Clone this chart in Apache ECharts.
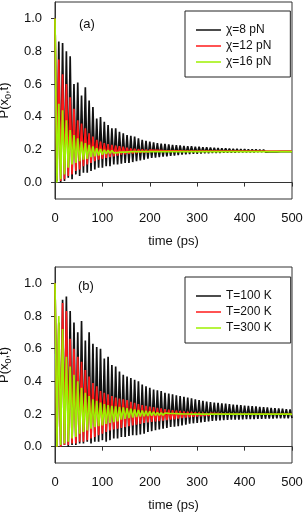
<!DOCTYPE html>
<html><head><meta charset="utf-8">
<script src="https://cdn.jsdelivr.net/npm/echarts@6/dist/echarts.min.js"></script>
<style>html,body{margin:0;padding:0;background:#fff}#c{width:303px;height:513px}</style>
</head><body><div id="c"></div>
<script>
// time samples (ps)
const times = [0,4,8,12,16,20,24,28,32,36,40,44,48,52,56,60,64,68,72,76,80,84,88,92,96,100,104,108,112,116,120,124,128,132,136,140,144,148,152,156,160,164,168,172,176,180,184,188,192,196,200,204,208,212,216,220,224,228,232,236,240,244,248,252,256,260,264,268,272,276,280,284,288,292,296,300,304,308,312,316,320,324,328,332,336,340,344,348,352,356,360,364,368,372,376,380,384,388,392,396,400,404,408,412,416,420,424,428,432,436,440,444,448,452,456,460,464,468,472,476,480,484,488,492,496,500];

const xTicks = [0,100,200,300,400,500];
const yTicks = [0.0,0.2,0.4,0.6,0.8,1.0];

// panel (a)
const namesA = ['χ=8 pN','χ=12 pN','χ=16 pN'];
const a_chi8 = [
1.00,0.01, 0.86,0.00, 0.85,0.01, 0.80,0.03, 0.77,0.02, 0.60,0.05, 0.61,0.04, 0.53,0.06,
0.58,0.06, 0.50,0.07, 0.46,0.08, 0.39,0.09, 0.40,0.09, 0.37,0.10, 0.35,0.10, 0.33,0.11,
0.33,0.11, 0.31,0.115, 0.30,0.12, 0.29,0.12, 0.285,0.125, 0.28,0.13, 0.27,0.135, 0.26,0.14,
0.255,0.145, 0.25,0.15, 0.245,0.152, 0.24,0.155, 0.238,0.158, 0.236,0.16, 0.233,0.163, 0.23,0.165,
0.228,0.167, 0.226,0.17, 0.224,0.172, 0.222,0.174, 0.221,0.175, 0.219,0.176, 0.218,0.177, 0.216,0.178,
0.215,0.179, 0.213,0.18, 0.212,0.18, 0.211,0.181, 0.209,0.182, 0.208,0.182, 0.207,0.183, 0.206,0.183,
0.205,0.184, 0.204,0.184, 0.203,0.185, 0.202,0.185, 0.202,0.185, 0.201,0.186, 0.200,0.186, 0.199,0.186,
0.198,0.187, 0.197,0.187, 0.196,0.187, 0.195,0.188, 0.195,0.188, 0.194,0.188, 0.194,0.188];
const a_chi12 = [
1.00,0.02, 0.75,0.01, 0.66,0.02, 0.60,0.04, 0.52,0.05, 0.45,0.07, 0.38,0.08, 0.36,0.10,
0.33,0.11, 0.30,0.12, 0.28,0.13, 0.26,0.14, 0.25,0.145, 0.24,0.15, 0.235,0.155, 0.23,0.16,
0.225,0.165, 0.222,0.17, 0.218,0.172, 0.212,0.175, 0.208,0.178, 0.205,0.18, 0.203,0.182, 0.201,0.184,
0.199,0.185, 0.198,0.186, 0.197,0.187, 0.196,0.188, 0.195,0.189, 0.194,0.19, 0.194,0.19, 0.193,0.19,
0.193,0.191, 0.193,0.191, 0.192,0.191, 0.192,0.191, 0.192,0.191, 0.192,0.191, 0.192,0.191, 0.192,0.191,
0.192,0.191, 0.192,0.191, 0.192,0.191, 0.192,0.191, 0.192,0.191, 0.192,0.191, 0.192,0.191, 0.192,0.191,
0.192,0.191, 0.192,0.191, 0.192,0.191, 0.192,0.191, 0.192,0.191, 0.192,0.191, 0.192,0.191, 0.192,0.191,
0.192,0.191, 0.192,0.191, 0.192,0.191, 0.192,0.191, 0.192,0.191, 0.192,0.191, 0.192,0.191];
const a_chi16 = [
1.00,0.00, 0.48,0.02, 0.44,0.05, 0.38,0.09, 0.32,0.11, 0.29,0.12, 0.27,0.13, 0.25,0.14,
0.24,0.145, 0.23,0.155, 0.22,0.16, 0.21,0.165, 0.205,0.17, 0.20,0.175, 0.197,0.178, 0.195,0.181,
0.193,0.183, 0.191,0.185, 0.190,0.186, 0.189,0.187, 0.189,0.188, 0.189,0.188, 0.189,0.188, 0.189,0.188,
0.189,0.188, 0.189,0.188, 0.189,0.188, 0.189,0.188, 0.189,0.188, 0.189,0.188, 0.189,0.188, 0.189,0.188,
0.189,0.188, 0.189,0.188, 0.189,0.188, 0.189,0.188, 0.189,0.188, 0.189,0.188, 0.189,0.188, 0.189,0.188,
0.189,0.188, 0.189,0.188, 0.189,0.188, 0.189,0.188, 0.189,0.188, 0.189,0.188, 0.189,0.188, 0.189,0.188,
0.189,0.188, 0.189,0.188, 0.189,0.188, 0.189,0.188, 0.189,0.188, 0.189,0.188, 0.189,0.188, 0.189,0.188,
0.189,0.188, 0.189,0.188, 0.189,0.188, 0.189,0.188, 0.189,0.188, 0.189,0.188, 0.189,0.188];

// panel (b)
const namesB = ['T=100 K','T=200 K','T=300 K'];
const b_T100 = [
1.00,0.00, 0.76,0.00, 0.90,0.01, 0.92,0.00, 0.83,0.01, 0.76,0.01, 0.70,0.02, 0.77,0.02,
0.65,0.03, 0.70,0.02, 0.63,0.03, 0.61,0.03, 0.60,0.04, 0.54,0.03, 0.55,0.04, 0.50,0.05,
0.49,0.05, 0.46,0.06, 0.44,0.06, 0.43,0.065, 0.42,0.07, 0.41,0.07, 0.40,0.075, 0.38,0.08,
0.37,0.09, 0.36,0.095, 0.35,0.10, 0.345,0.105, 0.34,0.11, 0.33,0.115, 0.325,0.12, 0.32,0.122,
0.315,0.125, 0.31,0.13, 0.305,0.135, 0.30,0.14, 0.296,0.143, 0.29,0.146, 0.285,0.149, 0.28,0.152,
0.276,0.155, 0.273,0.157, 0.27,0.159, 0.268,0.161, 0.265,0.163, 0.263,0.164, 0.26,0.165, 0.258,0.166,
0.256,0.166, 0.254,0.167, 0.252,0.168, 0.25,0.168, 0.248,0.169, 0.246,0.17, 0.244,0.17, 0.242,0.171,
0.24,0.172, 0.238,0.172, 0.236,0.173, 0.234,0.173, 0.232,0.174, 0.23,0.174, 0.228,0.175];
const b_T200 = [
1.00,0.00, 0.75,0.00, 0.88,0.01, 0.83,0.01, 0.66,0.02, 0.60,0.02, 0.55,0.03, 0.52,0.03,
0.47,0.04, 0.43,0.05, 0.39,0.06, 0.37,0.07, 0.34,0.08, 0.33,0.09, 0.32,0.10, 0.31,0.105,
0.30,0.11, 0.295,0.115, 0.29,0.12, 0.285,0.125, 0.275,0.13, 0.268,0.135, 0.26,0.14, 0.255,0.145,
0.25,0.148, 0.246,0.151, 0.242,0.154, 0.238,0.157, 0.234,0.16, 0.23,0.163, 0.227,0.166, 0.224,0.168,
0.221,0.172, 0.218,0.175, 0.216,0.178, 0.214,0.18, 0.212,0.183, 0.21,0.185, 0.208,0.187, 0.206,0.189,
0.205,0.19, 0.204,0.192, 0.203,0.193, 0.202,0.194, 0.201,0.195, 0.200,0.196, 0.200,0.196, 0.199,0.197,
0.199,0.197, 0.199,0.197, 0.199,0.197, 0.199,0.197, 0.199,0.197, 0.199,0.197, 0.199,0.197, 0.199,0.197,
0.199,0.197, 0.199,0.197, 0.199,0.197, 0.199,0.197, 0.199,0.197, 0.199,0.197, 0.199,0.197];
const b_T300 = [
1.00,0.00, 0.80,0.01, 0.72,0.02, 0.55,0.03, 0.49,0.05, 0.44,0.06, 0.40,0.08, 0.36,0.09,
0.33,0.10, 0.31,0.11, 0.29,0.12, 0.28,0.125, 0.27,0.13, 0.26,0.14, 0.255,0.145, 0.25,0.15,
0.247,0.155, 0.244,0.165, 0.24,0.17, 0.236,0.175, 0.232,0.178, 0.228,0.181, 0.225,0.184, 0.222,0.186,
0.219,0.188, 0.216,0.19, 0.213,0.191, 0.21,0.192, 0.208,0.193, 0.206,0.194, 0.204,0.195, 0.203,0.196,
0.202,0.197, 0.201,0.197, 0.200,0.198, 0.200,0.198, 0.199,0.198, 0.199,0.198, 0.199,0.198, 0.199,0.198,
0.199,0.198, 0.199,0.198, 0.199,0.198, 0.199,0.198, 0.199,0.198, 0.199,0.198, 0.199,0.198, 0.199,0.198,
0.199,0.198, 0.199,0.198, 0.199,0.198, 0.199,0.198, 0.199,0.198, 0.199,0.198, 0.199,0.198, 0.199,0.198,
0.199,0.198, 0.199,0.198, 0.199,0.198, 0.199,0.198, 0.199,0.198, 0.199,0.198, 0.199,0.198];

const colors = ['#111111','#ff1a1a','#9ef000'];
const FONT = 'Liberation Sans, Arial, sans-serif';

function xAx(gi){
  return {type:'value', gridIndex:gi, min:0, max:500, interval:100,
    axisLine:{lineStyle:{color:'#333',width:1}},
    axisTick:{length:4, lineStyle:{color:'#333'}},
    axisLabel:{fontSize:13, color:'#111', margin:13, fontFamily:FONT,
      customValues:xTicks},
    splitLine:{show:false},
    name:'time (ps)', nameLocation:'middle', nameGap:36,
    nameTextStyle:{fontSize:13, color:'#111', fontFamily:FONT}};
}
function yAx(gi){
  return {type:'value', gridIndex:gi, min:-0.1, max:1.1,
    axisLine:{onZero:false, lineStyle:{color:'#333',width:1}},
    axisTick:{length:4, lineStyle:{color:'#333'}, customValues:yTicks},
    axisLabel:{fontSize:13, color:'#111', margin:13, fontFamily:FONT,
      customValues:yTicks, formatter:v=>v.toFixed(1)},
    splitLine:{show:false},
    name:'P(x{s|0},t)', nameLocation:'middle', nameGap:41, nameRotate:90,
    nameTextStyle:{fontSize:13, color:'#111', fontFamily:FONT, lineHeight:18,
      rich:{s:{fontSize:9, fontFamily:FONT, color:'#111', verticalAlign:'bottom', lineHeight:8}}}};
}
function mk(name, arr, gi, ci){
  return {name:name, type:'line', xAxisIndex:gi, yAxisIndex:gi, showSymbol:false,
    symbol:'none', animation:false, color:colors[ci],
    lineStyle:{width:1.7, color:colors[ci]},
    data: times.map((t,i)=>[t, arr[i]])};
}
function lg(names, top){
  return {data:names, orient:'vertical', left:185, top:top,
    padding:[12,19,8,11], borderColor:'#222', borderWidth:1,
    icon:'rect', itemWidth:25, itemHeight:1.5, itemGap:2,
    textStyle:{fontSize:12, color:'#111', fontFamily:FONT, lineHeight:14}};
}

const chart = echarts.init(document.getElementById('c'), null, {renderer:'canvas'});
chart.setOption({
  animation:false,
  backgroundColor:'#fff',
  grid:[
    {left:55, width:237, top:2, height:197, show:true, borderColor:'#333', borderWidth:1, containLabel:false, outerBoundsMode:'none'},
    {left:55, width:237, top:267, height:196, show:true, borderColor:'#333', borderWidth:1, containLabel:false, outerBoundsMode:'none'}
  ],
  xAxis:[xAx(0), xAx(1)],
  yAxis:[yAx(0), yAx(1)],
  legend:[lg(namesA, 11), lg(namesB, 277)],
  graphic:[
    {type:'text', left:79, top:18, style:{text:'(a)', fontSize:13, fill:'#111', fontFamily:FONT}},
    {type:'text', left:78, top:280, style:{text:'(b)', fontSize:13, fill:'#111', fontFamily:FONT}}
  ],
  series:[
    mk(namesA[0], a_chi8, 0, 0), mk(namesA[1], a_chi12, 0, 1), mk(namesA[2], a_chi16, 0, 2),
    mk(namesB[0], b_T100, 1, 0), mk(namesB[1], b_T200, 1, 1), mk(namesB[2], b_T300, 1, 2)
  ]
});
</script></body></html>
